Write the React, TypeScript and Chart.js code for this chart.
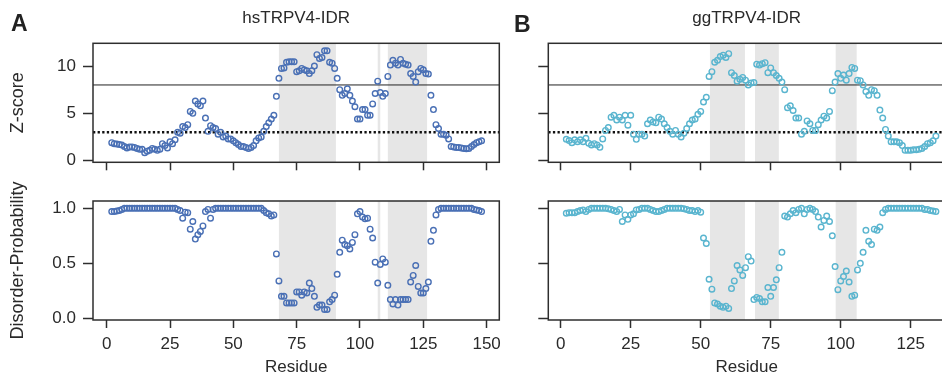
import React, { useEffect, useRef } from 'react';
import { Chart, registerables } from 'chart.js';

Chart.register(...registerables);

// ---------------- data ----------------
const hsStartResidue = 2;
const ggStartResidue = 2;

const hsZScore = [
  1.9, 1.8, 1.75, 1.7, 1.65, 1.5, 1.35, 1.45, 1.45, 1.4,
  1.3, 1.2, 1.2, 0.85, 1.0, 1.1, 1.3, 1.2, 1.1, 1.2,
  1.8, 1.6, 1.35, 2.0, 1.8, 2.2, 3.0, 2.9, 3.6, 3.5,
  3.8, 5.2, 5.0, 6.3, 6.0, 5.8, 6.3, 4.5, 3.1, 3.7,
  3.5, 3.4, 2.8, 3.0, 2.5, 2.6, 2.3, 2.3, 2.1, 1.9,
  1.7, 1.5, 1.5, 1.4, 1.3, 1.4, 1.6, 2.1, 2.4, 2.5,
  3.1, 3.6, 4.0, 4.4, 4.8, 6.8, 8.7, 9.75, 9.8, 10.4,
  10.45, 10.45, 10.45, 9.4, 9.5, 9.75, 9.6, 9.5, 9.2, 9.5,
  10.0, 11.2, 10.8, 10.9, 11.6, 11.6, 10.4, 10.3, 9.75, 8.7,
  7.5, 6.9, 7.1, 7.6, 6.9, 6.3, 5.7, 4.4, 4.4, 5.4,
  5.4, 4.8, 4.8, 6.0, 7.1, 8.4, 7.2, 6.8, 7.1, 8.9,
  10.1, 10.6, 10.3, 10.1, 10.7, 10.3, 10.2, 10.1, 9.2, 8.9,
  8.3, 9.4, 9.75, 9.6, 9.2, 9.15, 6.9, 5.4, 3.8, 3.4,
  2.8, 2.8, 2.7, 2.3, 1.5, 1.45, 1.4, 1.4, 1.35, 1.3,
  1.25, 1.3, 1.5, 1.7, 1.9, 2.0, 2.1,
];

const hsDisorder = [
  0.97, 0.97, 0.975, 0.98, 0.99, 1, 1, 1, 1, 1,
  1, 1, 1, 1, 1, 1, 1, 1, 1, 1,
  1, 1, 1, 1, 1, 1, 0.99, 0.98, 0.91, 0.965,
  0.96, 0.81, 0.88, 0.72, 0.76, 0.79, 0.84, 0.97, 0.99, 0.91,
  0.99, 1, 1, 1, 1, 1, 1, 1, 1, 1,
  1, 1, 1, 1, 1, 1, 1, 1, 1, 1,
  0.98, 0.96, 0.95, 0.93, 0.94, 0.585, 0.34, 0.2, 0.2, 0.14,
  0.14, 0.14, 0.14, 0.24, 0.24, 0.21, 0.24, 0.23, 0.32, 0.27,
  0.2, 0.1, 0.12, 0.12, 0.08, 0.08, 0.15, 0.17, 0.21, 0.4,
  0.6, 0.71, 0.67, 0.66, 0.63, 0.69, 0.76, 0.95, 0.97, 0.92,
  0.905, 0.91, 0.81, 0.73, 0.51, 0.32, 0.49, 0.54, 0.51, 0.3,
  0.17, 0.13, 0.17, 0.12, 0.17, 0.17, 0.17, 0.17, 0.33, 0.39,
  0.48, 0.29, 0.23, 0.23, 0.27, 0.33, 0.7, 0.8, 0.94, 0.99,
  1, 1, 1, 1, 1, 1, 1, 1, 1, 1,
  1, 1, 1, 0.99, 0.985, 0.98, 0.97,
];

const ggZScore = [
  2.26, 2.12, 1.9, 2.2, 2.0, 2.2, 2.0, 2.36, 1.83, 1.66,
  1.8, 1.66, 1.41, 2.3, 3.2, 3.5, 4.6, 4.8, 4.3, 4.6,
  4.3, 4.8, 3.75, 4.8, 2.8, 2.26, 2.8, 2.8, 2.6, 3.9,
  4.3, 4.1, 4.0, 4.6, 4.4, 3.9, 3.5, 3.1, 2.8, 3.2,
  2.8, 2.5, 2.9, 3.4, 3.9, 4.3, 4.4, 4.9, 5.2, 6.2,
  6.7, 8.9, 9.4, 10.4, 10.6, 11.0, 11.15, 10.9, 11.3, 9.3,
  9.0, 8.4, 8.6, 8.8, 8.5, 8.0, 8.2, 8.25, 10.2, 10.1,
  10.25, 10.35, 9.3, 9.8, 9.3, 9.0, 8.7, 8.3, 7.5, 5.6,
  5.8, 5.3, 4.5, 4.5, 2.8, 3.1, 4.2, 3.9, 3.2, 3.2,
  3.8, 4.3, 4.7, 4.5, 5.2, 7.4, 8.3, 9.2, 8.7, 9.05,
  8.5, 9.2, 9.85, 9.75, 8.5, 8.45, 8.0, 7.3, 6.9, 7.5,
  7.4, 6.9, 5.35, 4.5, 3.3, 2.6, 2.0, 2.0, 2.0, 1.9,
  1.6, 1.1, 1.1, 1.1, 1.15, 1.15, 1.2, 1.3, 1.5, 1.8,
  1.9, 2.1, 2.6,
];

const ggDisorder = [
  0.955, 0.96, 0.96, 0.96, 0.97, 0.98, 0.985, 0.97, 0.99, 1,
  1, 1, 1, 1, 1, 0.995, 0.99, 0.98, 0.97, 0.99,
  0.88, 0.94, 0.9, 0.94, 0.95, 0.985, 0.99, 1, 1, 1,
  0.99, 0.98, 0.97, 0.97, 0.98, 0.99, 1, 1, 1, 1,
  1, 1, 0.995, 0.99, 0.98, 0.98, 0.97, 0.98, 0.965, 0.73,
  0.68, 0.355, 0.265, 0.14, 0.13, 0.11, 0.1, 0.11, 0.09, 0.27,
  0.34, 0.48, 0.44, 0.39, 0.46, 0.56, 0.52, 0.17, 0.19, 0.18,
  0.15, 0.15, 0.28, 0.2, 0.28, 0.35, 0.46, 0.6, 0.93, 0.92,
  0.95, 0.98, 0.96, 0.99, 1, 0.95, 0.99, 1, 0.99, 0.97,
  0.92, 0.83, 0.89, 0.93, 0.88, 0.75, 0.47, 0.26, 0.34, 0.38,
  0.43, 0.33, 0.2, 0.21, 0.44, 0.5, 0.6, 0.8, 0.7, 0.67,
  0.81, 0.8, 0.83, 0.96, 0.99, 1, 1, 1, 1, 1,
  1, 1, 1, 1, 1, 1, 1, 1, 0.99, 0.99,
  0.98, 0.975, 0.97,
];

const hsShadedRegions = [[68, 90.5], [107, 108], [111, 126.5]];
const ggShadedRegions = [[53.3, 65.8], [69.4, 77.9], [98.2, 105.7]];

const zSolidThreshold = 8;
const zDottedThreshold = 3;

const hsXTicks = [0, 25, 50, 75, 100, 125, 150];
const ggXTicks = [0, 25, 50, 75, 100, 125];
const zTicks = [0, 5, 10];
const probTicks = [0, 0.5, 1];

const hsXRange = [-5.4, 155];
const ggXRange = [-4.43, 137.25];
const zRange = [-0.17, 12.4];
const probRange = [-0.0155, 1.0664];

const hsTitle = 'hsTRPV4-IDR';
const ggTitle = 'ggTRPV4-IDR';
const zTitle = 'Z-score';
const probTitle = 'Disorder-Probability';
const xTitle = 'Residue';

// ---------------- styling ----------------
const FONT = "'Liberation Sans', Arial, Helvetica, sans-serif";
const CANVAS_W = 960;
const CANVAS_H = 379;
const hsColor = '#4a70b5';
const ggColor = '#5ab5cf';
const textColor = '#2a2a2a';
const axisColor = '#2e2e2e';

const decorPlugin = {
  id: 'decor',
  beforeDatasetsDraw(chart: any, _args: any, opts: any) {
    const { ctx, chartArea, scales } = chart;
    const { left, right, top, bottom } = chartArea;
    const xs = scales.x;
    const ys = scales.y;
    ctx.save();
    ctx.beginPath();
    ctx.rect(left, top, right - left, bottom - top);
    ctx.clip();
    ctx.fillStyle = '#e6e6e6';
    for (const [a, b] of opts.shades || []) {
      const x0 = xs.getPixelForValue(a);
      const x1 = xs.getPixelForValue(b);
      ctx.fillRect(x0, top, x1 - x0, bottom - top);
    }
    if (opts.solid != null) {
      const yy = ys.getPixelForValue(opts.solid);
      ctx.strokeStyle = '#222';
      ctx.lineWidth = 1;
      ctx.setLineDash([]);
      ctx.beginPath();
      ctx.moveTo(left, yy);
      ctx.lineTo(right, yy);
      ctx.stroke();
    }
    if (opts.dotted != null) {
      const yy = ys.getPixelForValue(opts.dotted);
      ctx.strokeStyle = '#111';
      ctx.lineWidth = 2.4;
      ctx.setLineDash([2.3, 2.3]);
      ctx.beginPath();
      ctx.moveTo(left, yy);
      ctx.lineTo(right, yy);
      ctx.stroke();
    }
    ctx.restore();
  },
  afterDatasetsDraw(chart: any) {
    const { ctx, chartArea } = chart;
    const { left, right, top, bottom } = chartArea;
    ctx.save();
    ctx.strokeStyle = axisColor;
    ctx.lineWidth = 1.5;
    ctx.setLineDash([]);
    ctx.strokeRect(left, top, right - left, bottom - top);
    ctx.restore();
  },
};

type Panel = {
  values: number[];
  start: number;
  color: string;
  shades: number[][];
  xTicks: number[];
  xRange: number[];
  yTicks: number[];
  yRange: number[];
  yDecimals: number;
  yTitle?: string;
  title?: string;
  showXLabels: boolean;
  showYLabels: boolean;
  lines: boolean;
  area: { left: number; top: number; right: number; bottom: number };
};

const panels: Panel[] = [
  {
    values: hsZScore, start: hsStartResidue, color: hsColor, shades: hsShadedRegions,
    xTicks: hsXTicks, xRange: hsXRange, yTicks: zTicks, yRange: zRange, yDecimals: 0,
    yTitle: zTitle, title: hsTitle, showXLabels: false, showYLabels: true, lines: true,
    area: { left: 93, top: 43.3, right: 499.3, bottom: 162.3 },
  },
  {
    values: hsDisorder, start: hsStartResidue, color: hsColor, shades: hsShadedRegions,
    xTicks: hsXTicks, xRange: hsXRange, yTicks: probTicks, yRange: probRange, yDecimals: 1,
    yTitle: probTitle, showXLabels: true, showYLabels: true, lines: false,
    area: { left: 93, top: 201, right: 499.3, bottom: 320 },
  },
  {
    values: ggZScore, start: ggStartResidue, color: ggColor, shades: ggShadedRegions,
    xTicks: ggXTicks, xRange: ggXRange, yTicks: zTicks, yRange: zRange, yDecimals: 0,
    title: ggTitle, showXLabels: false, showYLabels: false, lines: true,
    area: { left: 548.3, top: 43.3, right: 945, bottom: 162.3 },
  },
  {
    values: ggDisorder, start: ggStartResidue, color: ggColor, shades: ggShadedRegions,
    xTicks: ggXTicks, xRange: ggXRange, yTicks: probTicks, yRange: probRange, yDecimals: 1,
    showXLabels: true, showYLabels: false, lines: false,
    area: { left: 548.3, top: 201, right: 945, bottom: 320 },
  },
];

function makeConfig(p: Panel): any {
  const yWidth = p.showYLabels ? p.area.left : 40;
  const xHeight = p.showXLabels ? CANVAS_H - p.area.bottom : 20;
  const titleSize = 17;
  const titleLH = titleSize * 1.2;
  const titleTopPad = 7.8;
  return {
    type: 'scatter',
    data: {
      datasets: [
        {
          data: p.values.map((v, i) => ({ x: p.start + i, y: v })),
          pointRadius: 2.8,
          pointHoverRadius: 2.8,
          pointBorderWidth: 1.4,
          pointBorderColor: p.color,
          pointBackgroundColor: 'rgba(0,0,0,0)',
          showLine: false,
        },
      ],
    },
    options: {
      responsive: false,
      animation: false,
      events: [],
      layout: {
        padding: {
          left: p.area.left - yWidth,
          right: CANVAS_W - p.area.right,
          top: p.title ? 0 : p.area.top,
          bottom: CANVAS_H - p.area.bottom - xHeight,
        },
      },
      plugins: {
        legend: { display: false },
        tooltip: { enabled: false },
        title: p.title
          ? {
              display: true,
              text: p.title,
              fullSize: false,
              color: textColor,
              font: { family: FONT, size: titleSize, weight: 'normal' },
              padding: { top: titleTopPad, bottom: p.area.top - titleTopPad - titleLH },
            }
          : { display: false },
        decor: {
          shades: p.shades,
          solid: p.lines ? zSolidThreshold : null,
          dotted: p.lines ? zDottedThreshold : null,
        },
      },
      scales: {
        x: {
          type: 'linear',
          min: p.xRange[0],
          max: p.xRange[1],
          afterBuildTicks: (s: any) => {
            s.ticks = p.xTicks.map((v) => ({ value: v }));
          },
          afterFit: (s: any) => {
            s.height = xHeight;
          },
          grid: {
            display: true,
            drawOnChartArea: false,
            drawTicks: true,
            tickLength: 8,
            tickColor: axisColor,
            tickWidth: 1.5,
          },
          border: { display: false },
          ticks: {
            display: p.showXLabels,
            autoSkip: false,
            maxRotation: 0,
            padding: 5.8,
            color: textColor,
            font: { family: FONT, size: 17 },
            callback: (v: any) => String(v),
          },
          title: p.showXLabels
            ? {
                display: true,
                text: xTitle,
                color: textColor,
                font: { family: FONT, size: 17 },
                padding: { top: 0, bottom: 1.3 },
              }
            : { display: false },
        },
        y: {
          type: 'linear',
          min: p.yRange[0],
          max: p.yRange[1],
          afterBuildTicks: (s: any) => {
            s.ticks = p.yTicks.map((v) => ({ value: v }));
          },
          afterFit: (s: any) => {
            s.width = yWidth;
          },
          grid: {
            display: true,
            drawOnChartArea: false,
            drawTicks: true,
            tickLength: 10,
            tickColor: axisColor,
            tickWidth: 1.5,
          },
          border: { display: false },
          ticks: {
            display: p.showYLabels,
            padding: 7,
            color: textColor,
            font: { family: FONT, size: 17 },
            callback: (v: any) => Number(v).toFixed(p.yDecimals),
          },
          title: p.yTitle
            ? {
                display: true,
                text: p.yTitle,
                color: textColor,
                font: { family: FONT, size: 18 },
                padding: { top: 7.7, bottom: 0 },
              }
            : { display: false },
        },
      },
    },
    plugins: [decorPlugin],
  };
}

function ChartPanel({ panel }: { panel: Panel }) {
  const ref = useRef<HTMLCanvasElement | null>(null);
  useEffect(() => {
    if (!ref.current) return;
    const chart = new Chart(ref.current, makeConfig(panel));
    return () => chart.destroy();
  }, [panel]);
  return (
    <canvas
      ref={ref}
      width={CANVAS_W}
      height={CANVAS_H}
      style={{ position: 'absolute', left: 0, top: 0, width: CANVAS_W, height: CANVAS_H }}
    />
  );
}

const letterStyle: React.CSSProperties = {
  position: 'absolute',
  fontFamily: FONT,
  fontWeight: 'bold',
  fontSize: 23,
  lineHeight: '23px',
  color: '#222',
};

export default function App() {
  return (
    <div
      style={{
        position: 'absolute',
        left: 0,
        top: 0,
        width: 942,
        height: 379,
        overflow: 'hidden',
        background: '#ffffff',
      }}
    >
      {panels.map((p, i) => (
        <ChartPanel key={i} panel={p} />
      ))}
      <div style={{ ...letterStyle, left: 11, top: 12 }}>A</div>
      <div style={{ ...letterStyle, left: 514, top: 13 }}>B</div>
    </div>
  );
}
